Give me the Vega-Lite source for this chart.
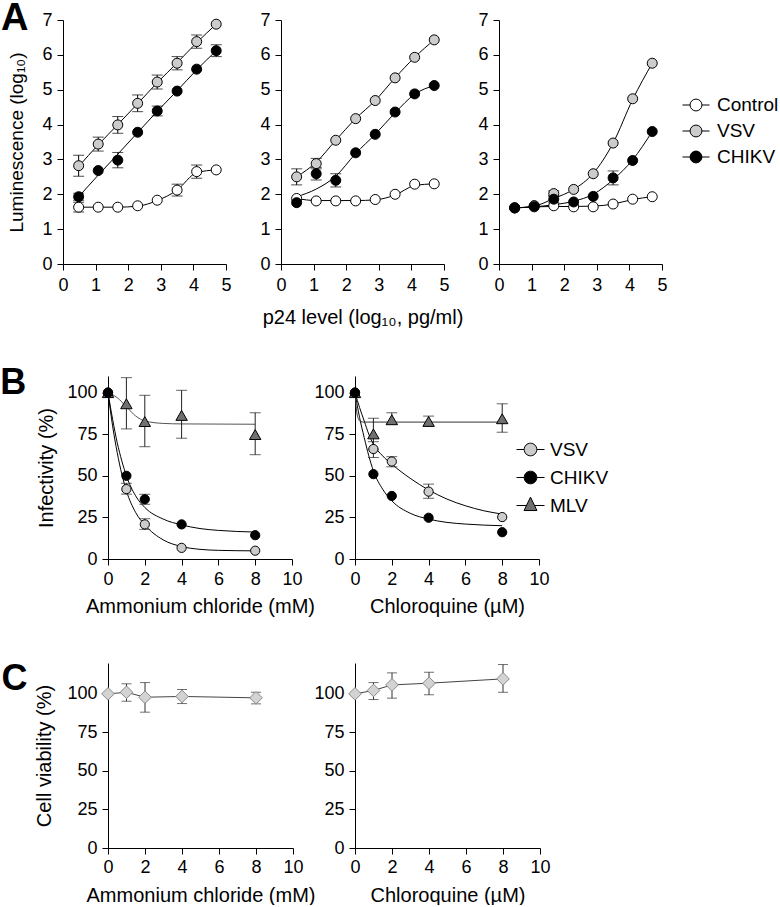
{
"$schema": "https://vega.github.io/schema/vega-lite/v6.json",
"padding": {"left": 0, "top": 0, "right": 0, "bottom": 0},
"background": "white",
"config": {
  "font": "Liberation Sans",
  "view": {"stroke": null},
  "axis": {"domainColor": "black", "domainWidth": 1, "tickColor": "black", "tickWidth": 1, "tickSize": 6, "tickCount": 20, "format": "d", "labelColor": "black", "labelFontSize": 18, "labelFont": "Liberation Sans", "labelPadding": 5, "labelFlush": false, "labelOverlap": false, "titleColor": "black", "titleFontSize": 20, "titleFont": "Liberation Sans", "titleFontWeight": "normal", "grid": false},
  "legend": {"labelFont": "Liberation Sans", "labelColor": "black", "labelFontSize": 19, "padding": 0, "symbolStrokeWidth": 1, "symbolOpacity": 1}
},
"datasets": {
  "A": [
    {"p":1,"s":"Control","x":0.48,"y":1.63,"lo":1.49,"hi":1.77},{"p":1,"s":"Control","x":1.08,"y":1.63},{"p":1,"s":"Control","x":1.68,"y":1.63},{"p":1,"s":"Control","x":2.29,"y":1.67},{"p":1,"s":"Control","x":2.89,"y":1.83},{"p":1,"s":"Control","x":3.5,"y":2.12,"lo":1.95,"hi":2.29},{"p":1,"s":"Control","x":4.1,"y":2.65,"lo":2.46,"hi":2.84},{"p":1,"s":"Control","x":4.7,"y":2.70},
    {"p":1,"s":"VSV","x":0.48,"y":2.82,"lo":2.52,"hi":3.12},{"p":1,"s":"VSV","x":1.08,"y":3.44,"lo":3.24,"hi":3.64},{"p":1,"s":"VSV","x":1.68,"y":3.99,"lo":3.75,"hi":4.23},{"p":1,"s":"VSV","x":2.29,"y":4.61,"lo":4.37,"hi":4.85},{"p":1,"s":"VSV","x":2.89,"y":5.22,"lo":5.02,"hi":5.42},{"p":1,"s":"VSV","x":3.5,"y":5.76,"lo":5.57,"hi":5.95},{"p":1,"s":"VSV","x":4.1,"y":6.38,"lo":6.19,"hi":6.57},{"p":1,"s":"VSV","x":4.7,"y":6.88},
    {"p":1,"s":"CHIKV","x":0.48,"y":1.93,"lo":1.83,"hi":2.03},{"p":1,"s":"CHIKV","x":1.08,"y":2.68},{"p":1,"s":"CHIKV","x":1.68,"y":2.98,"lo":2.76,"hi":3.2},{"p":1,"s":"CHIKV","x":2.29,"y":3.78},{"p":1,"s":"CHIKV","x":2.89,"y":4.39,"lo":4.25,"hi":4.53},{"p":1,"s":"CHIKV","x":3.5,"y":4.96},{"p":1,"s":"CHIKV","x":4.1,"y":5.59},{"p":1,"s":"CHIKV","x":4.7,"y":6.12,"lo":5.95,"hi":6.29},
    {"p":2,"s":"Control","x":0.48,"y":1.88},{"p":2,"s":"Control","x":1.08,"y":1.81},{"p":2,"s":"Control","x":1.68,"y":1.81},{"p":2,"s":"Control","x":2.29,"y":1.81},{"p":2,"s":"Control","x":2.89,"y":1.85},{"p":2,"s":"Control","x":3.5,"y":2.0},{"p":2,"s":"Control","x":4.1,"y":2.29},{"p":2,"s":"Control","x":4.7,"y":2.30},
    {"p":2,"s":"VSV","x":0.48,"y":2.5,"lo":2.27,"hi":2.73},{"p":2,"s":"VSV","x":1.08,"y":2.88,"lo":2.73,"hi":3.03},{"p":2,"s":"VSV","x":1.68,"y":3.55},{"p":2,"s":"VSV","x":2.29,"y":4.17},{"p":2,"s":"VSV","x":2.89,"y":4.69},{"p":2,"s":"VSV","x":3.5,"y":5.34},{"p":2,"s":"VSV","x":4.1,"y":5.93},{"p":2,"s":"VSV","x":4.7,"y":6.43},
    {"p":2,"s":"CHIKV","x":0.48,"y":1.76},{"p":2,"s":"CHIKV","x":1.08,"y":2.59,"lo":2.41,"hi":2.77},{"p":2,"s":"CHIKV","x":1.68,"y":2.40,"lo":2.21,"hi":2.59},{"p":2,"s":"CHIKV","x":2.29,"y":3.19},{"p":2,"s":"CHIKV","x":2.89,"y":3.72},{"p":2,"s":"CHIKV","x":3.5,"y":4.36},{"p":2,"s":"CHIKV","x":4.1,"y":4.88},{"p":2,"s":"CHIKV","x":4.7,"y":5.12},
    {"p":3,"s":"Control","x":0.48,"y":1.61},{"p":3,"s":"Control","x":1.08,"y":1.67},{"p":3,"s":"Control","x":1.68,"y":1.67},{"p":3,"s":"Control","x":2.29,"y":1.64},{"p":3,"s":"Control","x":2.89,"y":1.64},{"p":3,"s":"Control","x":3.5,"y":1.72},{"p":3,"s":"Control","x":4.1,"y":1.86},{"p":3,"s":"Control","x":4.7,"y":1.93},
    {"p":3,"s":"VSV","x":0.48,"y":1.61},{"p":3,"s":"VSV","x":1.08,"y":1.67},{"p":3,"s":"VSV","x":1.68,"y":2.02,"lo":1.94,"hi":2.1},{"p":3,"s":"VSV","x":2.29,"y":2.14},{"p":3,"s":"VSV","x":2.89,"y":2.59},{"p":3,"s":"VSV","x":3.5,"y":3.47},{"p":3,"s":"VSV","x":4.1,"y":4.74},{"p":3,"s":"VSV","x":4.7,"y":5.76},
    {"p":3,"s":"CHIKV","x":0.48,"y":1.61},{"p":3,"s":"CHIKV","x":1.08,"y":1.64},{"p":3,"s":"CHIKV","x":1.68,"y":1.86,"lo":1.76,"hi":1.96},{"p":3,"s":"CHIKV","x":2.29,"y":1.78},{"p":3,"s":"CHIKV","x":2.89,"y":1.94},{"p":3,"s":"CHIKV","x":3.5,"y":2.47,"lo":2.27,"hi":2.67},{"p":3,"s":"CHIKV","x":4.1,"y":2.97},{"p":3,"s":"CHIKV","x":4.7,"y":3.80}
  ],
  "Af": [
    {"p":1,"s":"Control","x":0.48,"y":1.63},{"p":1,"s":"Control","x":1.08,"y":1.63},{"p":1,"s":"Control","x":1.68,"y":1.63},{"p":1,"s":"Control","x":2.29,"y":1.66},{"p":1,"s":"Control","x":2.89,"y":1.82},{"p":1,"s":"Control","x":3.5,"y":2.12},{"p":1,"s":"Control","x":4.1,"y":2.62},{"p":1,"s":"Control","x":4.7,"y":2.70},
    {"p":1,"s":"VSV","x":0.48,"y":2.8},{"p":1,"s":"VSV","x":1.08,"y":3.42},{"p":1,"s":"VSV","x":1.68,"y":4.0},{"p":1,"s":"VSV","x":2.29,"y":4.6},{"p":1,"s":"VSV","x":2.89,"y":5.2},{"p":1,"s":"VSV","x":3.5,"y":5.77},{"p":1,"s":"VSV","x":4.1,"y":6.35},{"p":1,"s":"VSV","x":4.7,"y":6.88},
    {"p":1,"s":"CHIKV","x":0.48,"y":1.93},{"p":1,"s":"CHIKV","x":1.08,"y":2.55},{"p":1,"s":"CHIKV","x":1.68,"y":3.15},{"p":1,"s":"CHIKV","x":2.29,"y":3.77},{"p":1,"s":"CHIKV","x":2.89,"y":4.38},{"p":1,"s":"CHIKV","x":3.5,"y":4.97},{"p":1,"s":"CHIKV","x":4.1,"y":5.57},{"p":1,"s":"CHIKV","x":4.7,"y":6.12},
    {"p":2,"s":"Control","x":0.48,"y":1.88},{"p":2,"s":"Control","x":1.08,"y":1.82},{"p":2,"s":"Control","x":1.68,"y":1.82},{"p":2,"s":"Control","x":2.29,"y":1.82},{"p":2,"s":"Control","x":2.89,"y":1.84},{"p":2,"s":"Control","x":3.5,"y":1.98},{"p":2,"s":"Control","x":4.1,"y":2.25},{"p":2,"s":"Control","x":4.7,"y":2.30},
    {"p":2,"s":"VSV","x":0.48,"y":2.5},{"p":2,"s":"VSV","x":1.08,"y":2.92},{"p":2,"s":"VSV","x":1.68,"y":3.55},{"p":2,"s":"VSV","x":2.29,"y":4.17},{"p":2,"s":"VSV","x":2.89,"y":4.69},{"p":2,"s":"VSV","x":3.5,"y":5.34},{"p":2,"s":"VSV","x":4.1,"y":5.93},{"p":2,"s":"VSV","x":4.7,"y":6.43},
    {"p":2,"s":"CHIKV","x":0.48,"y":1.93},{"p":2,"s":"CHIKV","x":1.08,"y":2.15},{"p":2,"s":"CHIKV","x":1.68,"y":2.52},{"p":2,"s":"CHIKV","x":2.29,"y":3.17},{"p":2,"s":"CHIKV","x":2.89,"y":3.72},{"p":2,"s":"CHIKV","x":3.5,"y":4.34},{"p":2,"s":"CHIKV","x":4.1,"y":4.87},{"p":2,"s":"CHIKV","x":4.7,"y":5.12},
    {"p":3,"s":"Control","x":0.48,"y":1.61},{"p":3,"s":"Control","x":1.08,"y":1.64},{"p":3,"s":"Control","x":1.68,"y":1.65},{"p":3,"s":"Control","x":2.29,"y":1.65},{"p":3,"s":"Control","x":2.89,"y":1.66},{"p":3,"s":"Control","x":3.5,"y":1.72},{"p":3,"s":"Control","x":4.1,"y":1.85},{"p":3,"s":"Control","x":4.7,"y":1.93},
    {"p":3,"s":"VSV","x":0.48,"y":1.61},{"p":3,"s":"VSV","x":1.08,"y":1.66},{"p":3,"s":"VSV","x":1.68,"y":1.88},{"p":3,"s":"VSV","x":2.29,"y":2.14},{"p":3,"s":"VSV","x":2.89,"y":2.6},{"p":3,"s":"VSV","x":3.5,"y":3.47},{"p":3,"s":"VSV","x":4.1,"y":4.72},{"p":3,"s":"VSV","x":4.7,"y":5.76},
    {"p":3,"s":"CHIKV","x":0.48,"y":1.61},{"p":3,"s":"CHIKV","x":1.08,"y":1.64},{"p":3,"s":"CHIKV","x":1.68,"y":1.7},{"p":3,"s":"CHIKV","x":2.29,"y":1.8},{"p":3,"s":"CHIKV","x":2.89,"y":2.0},{"p":3,"s":"CHIKV","x":3.5,"y":2.42},{"p":3,"s":"CHIKV","x":4.1,"y":2.99},{"p":3,"s":"CHIKV","x":4.7,"y":3.8}
  ],
  "B": [
    {"p":1,"s":"MLV","x":0,"y":100},{"p":1,"s":"MLV","x":1,"y":93.3,"lo":78.2,"hi":109},{"p":1,"s":"MLV","x":2,"y":82.6,"lo":67.5,"hi":98.4},{"p":1,"s":"MLV","x":4,"y":86.3,"lo":72.6,"hi":101.4},{"p":1,"s":"MLV","x":8,"y":74.8,"lo":62.7,"hi":87.9},
    {"p":1,"s":"VSV","x":0,"y":100},{"p":1,"s":"VSV","x":1,"y":42,"lo":39,"hi":45.5},{"p":1,"s":"VSV","x":2,"y":20.8,"lo":17.8,"hi":24.2},{"p":1,"s":"VSV","x":4,"y":6.7},{"p":1,"s":"VSV","x":8,"y":5},
    {"p":1,"s":"CHIKV","x":0,"y":100},{"p":1,"s":"CHIKV","x":1,"y":50},{"p":1,"s":"CHIKV","x":2,"y":35.9,"lo":32.9,"hi":38.9},{"p":1,"s":"CHIKV","x":4,"y":20.8},{"p":1,"s":"CHIKV","x":8,"y":14.3},
    {"p":2,"s":"MLV","x":0,"y":100},{"p":2,"s":"MLV","x":1,"y":75.2,"lo":66,"hi":84.6},{"p":2,"s":"MLV","x":2,"y":83.7,"lo":81.2,"hi":87.9},{"p":2,"s":"MLV","x":4,"y":82.7,"lo":79.8,"hi":85.9},{"p":2,"s":"MLV","x":8,"y":84.3,"lo":76.2,"hi":93.3},
    {"p":2,"s":"VSV","x":0,"y":100},{"p":2,"s":"VSV","x":1,"y":66.1,"lo":61,"hi":70.5},{"p":2,"s":"VSV","x":2,"y":58.6,"lo":55.4,"hi":61.5},{"p":2,"s":"VSV","x":4,"y":40.5,"lo":36.5,"hi":45},{"p":2,"s":"VSV","x":8,"y":25.2},
    {"p":2,"s":"CHIKV","x":0,"y":100},{"p":2,"s":"CHIKV","x":1,"y":51},{"p":2,"s":"CHIKV","x":2,"y":37.9},{"p":2,"s":"CHIKV","x":4,"y":24.8},{"p":2,"s":"CHIKV","x":8,"y":16.1}
  ],
  "Bf": [
    {"p":1,"s":"VSV","x":0,"y":100},{"p":1,"s":"VSV","x":0.25,"y":80},{"p":1,"s":"VSV","x":0.5,"y":64},{"p":1,"s":"VSV","x":0.75,"y":51},{"p":1,"s":"VSV","x":1,"y":41},{"p":1,"s":"VSV","x":1.5,"y":28},{"p":1,"s":"VSV","x":2,"y":20.5},{"p":1,"s":"VSV","x":3,"y":11.5},{"p":1,"s":"VSV","x":4,"y":7.5},{"p":1,"s":"VSV","x":5,"y":5.8},{"p":1,"s":"VSV","x":6,"y":5.2},{"p":1,"s":"VSV","x":8,"y":4.9},
    {"p":1,"s":"CHIKV","x":0,"y":100},{"p":1,"s":"CHIKV","x":0.25,"y":84},{"p":1,"s":"CHIKV","x":0.5,"y":70},{"p":1,"s":"CHIKV","x":0.75,"y":59},{"p":1,"s":"CHIKV","x":1,"y":50},{"p":1,"s":"CHIKV","x":1.5,"y":38},{"p":1,"s":"CHIKV","x":2,"y":31},{"p":1,"s":"CHIKV","x":3,"y":24},{"p":1,"s":"CHIKV","x":4,"y":20.5},{"p":1,"s":"CHIKV","x":5,"y":18.3},{"p":1,"s":"CHIKV","x":6,"y":17.2},{"p":1,"s":"CHIKV","x":8,"y":16.2},
    {"p":1,"s":"MLV","x":0,"y":100},{"p":1,"s":"MLV","x":0.5,"y":97},{"p":1,"s":"MLV","x":1,"y":91.5},{"p":1,"s":"MLV","x":1.5,"y":86},{"p":1,"s":"MLV","x":2,"y":83},{"p":1,"s":"MLV","x":3,"y":81.5},{"p":1,"s":"MLV","x":4,"y":81.2},{"p":1,"s":"MLV","x":8,"y":81},
    {"p":2,"s":"VSV","x":0,"y":100},{"p":2,"s":"VSV","x":0.25,"y":91},{"p":2,"s":"VSV","x":0.5,"y":83},{"p":2,"s":"VSV","x":0.75,"y":75},{"p":2,"s":"VSV","x":1,"y":69},{"p":2,"s":"VSV","x":1.5,"y":62},{"p":2,"s":"VSV","x":2,"y":57},{"p":2,"s":"VSV","x":3,"y":48.5},{"p":2,"s":"VSV","x":4,"y":41.5},{"p":2,"s":"VSV","x":5,"y":36},{"p":2,"s":"VSV","x":6,"y":32},{"p":2,"s":"VSV","x":7,"y":29},{"p":2,"s":"VSV","x":8,"y":27},
    {"p":2,"s":"CHIKV","x":0,"y":100},{"p":2,"s":"CHIKV","x":0.25,"y":85},{"p":2,"s":"CHIKV","x":0.5,"y":73},{"p":2,"s":"CHIKV","x":0.75,"y":62},{"p":2,"s":"CHIKV","x":1,"y":53},{"p":2,"s":"CHIKV","x":1.5,"y":42},{"p":2,"s":"CHIKV","x":2,"y":35},{"p":2,"s":"CHIKV","x":3,"y":27.5},{"p":2,"s":"CHIKV","x":4,"y":24},{"p":2,"s":"CHIKV","x":5,"y":22},{"p":2,"s":"CHIKV","x":6,"y":21},{"p":2,"s":"CHIKV","x":8,"y":20},
    {"p":2,"s":"MLV","x":0,"y":100},{"p":2,"s":"MLV","x":0.1,"y":88},{"p":2,"s":"MLV","x":0.2,"y":84},{"p":2,"s":"MLV","x":0.3,"y":82.6},{"p":2,"s":"MLV","x":0.5,"y":82.3},{"p":2,"s":"MLV","x":8,"y":82.3}
  ],
  "C": [
    {"p":1,"x":0,"y":100},{"p":1,"x":1,"y":101,"lo":95.2,"hi":106.5},{"p":1,"x":2,"y":97.8,"lo":88.1,"hi":107.3},{"p":1,"x":4,"y":98.3,"lo":93.7,"hi":102.8},{"p":1,"x":8,"y":97.4,"lo":93.5,"hi":101},
    {"p":2,"x":0,"y":100},{"p":2,"x":1,"y":102.2,"lo":96.3,"hi":107.3},{"p":2,"x":2,"y":105.8,"lo":97.2,"hi":113.6},{"p":2,"x":4,"y":106.9,"lo":99.4,"hi":114},{"p":2,"x":8,"y":109.7,"lo":101,"hi":119}
  ]
},
"resolve": {"scale": {"fill": "independent", "shape": "independent"}, "legend": {"fill": "independent", "shape": "independent"}},
"columns": 1,
"align": "none",
"spacing": 37,
"concat": [
  {
    "bounds": "flush", "spacing": 55,
    "hconcat": [
      {"width": 163, "height": 244,
       "layer": [
        {"data": {"name": "Af"}, "transform": [{"filter": "datum.p==1"}], "mark": {"type": "line", "color": "black", "strokeWidth": 1, "interpolate": "monotone"},
         "encoding": {"x": {"field": "x", "type": "quantitative", "scale": {"domain": [0, 5], "nice": false}, "axis": {"values": [0,1,2,3,4,5], "tickCount": 20, "format": "d", "title": null, "labelPadding": 6}},
                      "y": {"field": "y", "type": "quantitative", "scale": {"domain": [0, 7], "nice": false}, "axis": {"values": [0,1,2,3,4,5,6,7], "tickCount": 20, "format": "d", "title": "Luminescence (log₁₀)", "titleFontSize": 19, "titlePadding": 15}},
                      "detail": {"field": "s", "type": "nominal"}}},
        {"data": {"name": "A"}, "transform": [{"filter": "datum.p==1 && isValid(datum.lo)"}], "mark": {"type": "rule", "color": "black", "strokeWidth": 1},
         "encoding": {"x": {"field": "x", "type": "quantitative"}, "y": {"field": "lo", "type": "quantitative"}, "y2": {"field": "hi"}}},
        {"data": {"name": "A"}, "transform": [{"filter": "datum.p==1 && isValid(datum.lo)"}, {"fold": ["lo", "hi"], "as": ["k", "v"]}], "mark": {"type": "tick", "orient": "horizontal", "size": 11, "thickness": 1, "color": "black"},
         "encoding": {"x": {"field": "x", "type": "quantitative"}, "y": {"field": "v", "type": "quantitative"}}},
        {"data": {"name": "A"}, "transform": [{"filter": "datum.p==1"}], "mark": {"type": "point", "shape": "circle", "size": 100, "filled": true, "stroke": "black", "strokeWidth": 1, "opacity": 1},
         "encoding": {"x": {"field": "x", "type": "quantitative"}, "y": {"field": "y", "type": "quantitative"},
                      "fill": {"field": "s", "type": "nominal", "scale": {"domain": ["Control", "VSV", "CHIKV"], "range": ["#ffffff", "#cccccc", "#000000"]},
                               "legend": {"title": null, "orient": "none", "legendX": 619, "legendY": 71, "symbolType": "M-1,0L-0.44,0M0.44,0L1,0M-0.44,0A0.44,0.44,0,1,0,0.44,0A0.44,0.44,0,1,0,-0.44,0Z", "symbolSize": 729, "symbolStrokeColor": "black", "labelOffset": 7, "rowPadding": 2}}}},
        {"data": {"values": [{"panel": "A"}]}, "mark": {"type": "text", "align": "left", "baseline": "alphabetic", "fontSize": 38, "fontWeight": "bold", "font": "Liberation Sans", "color": "black"},
         "encoding": {"x": {"datum": -1.9, "type": "quantitative"}, "y": {"datum": 6.71, "type": "quantitative"}, "text": {"field": "panel"}}}
      ]},
      {"width": 163, "height": 244, "layer": [
        {"data": {"name": "Af"}, "transform": [{"filter": "datum.p==2"}], "mark": {"type": "line", "color": "black", "strokeWidth": 1, "interpolate": "monotone"},
         "encoding": {"x": {"field": "x", "type": "quantitative", "scale": {"domain": [0, 5], "nice": false}, "axis": {"values": [0,1,2,3,4,5], "tickCount": 20, "format": "d", "title": "p24 level (log₁₀, pg/ml)", "labelPadding": 6, "titlePadding": 13}},
                      "y": {"field": "y", "type": "quantitative", "scale": {"domain": [0, 7], "nice": false}, "axis": {"values": [0,1,2,3,4,5,6,7], "tickCount": 20, "format": "d", "title": null}},
                      "detail": {"field": "s", "type": "nominal"}}},
        {"data": {"name": "A"}, "transform": [{"filter": "datum.p==2 && isValid(datum.lo)"}], "mark": {"type": "rule", "color": "black", "strokeWidth": 1},
         "encoding": {"x": {"field": "x", "type": "quantitative"}, "y": {"field": "lo", "type": "quantitative"}, "y2": {"field": "hi"}}},
        {"data": {"name": "A"}, "transform": [{"filter": "datum.p==2 && isValid(datum.lo)"}, {"fold": ["lo", "hi"], "as": ["k", "v"]}], "mark": {"type": "tick", "orient": "horizontal", "size": 11, "thickness": 1, "color": "black"},
         "encoding": {"x": {"field": "x", "type": "quantitative"}, "y": {"field": "v", "type": "quantitative"}}},
        {"data": {"name": "A"}, "transform": [{"filter": "datum.p==2"}], "mark": {"type": "point", "shape": "circle", "size": 100, "filled": true, "stroke": "black", "strokeWidth": 1, "opacity": 1},
         "encoding": {"x": {"field": "x", "type": "quantitative"}, "y": {"field": "y", "type": "quantitative"},
                      "fill": {"field": "s", "type": "nominal", "scale": {"domain": ["Control", "VSV", "CHIKV"], "range": ["#ffffff", "#cccccc", "#000000"]},
                               "legend": {"title": null, "orient": "none", "legendX": 619, "legendY": 71, "symbolType": "M-1,0L-0.44,0M0.44,0L1,0M-0.44,0A0.44,0.44,0,1,0,0.44,0A0.44,0.44,0,1,0,-0.44,0Z", "symbolSize": 729, "symbolStrokeColor": "black", "labelOffset": 7, "rowPadding": 2}}}}
      ]},
      {"width": 163, "height": 244, "layer": [
        {"data": {"name": "Af"}, "transform": [{"filter": "datum.p==3"}], "mark": {"type": "line", "color": "black", "strokeWidth": 1, "interpolate": "monotone"},
         "encoding": {"x": {"field": "x", "type": "quantitative", "scale": {"domain": [0, 5], "nice": false}, "axis": {"values": [0,1,2,3,4,5], "tickCount": 20, "format": "d", "title": null, "labelPadding": 6}},
                      "y": {"field": "y", "type": "quantitative", "scale": {"domain": [0, 7], "nice": false}, "axis": {"values": [0,1,2,3,4,5,6,7], "tickCount": 20, "format": "d", "title": null}},
                      "detail": {"field": "s", "type": "nominal"}}},
        {"data": {"name": "A"}, "transform": [{"filter": "datum.p==3 && isValid(datum.lo)"}], "mark": {"type": "rule", "color": "black", "strokeWidth": 1},
         "encoding": {"x": {"field": "x", "type": "quantitative"}, "y": {"field": "lo", "type": "quantitative"}, "y2": {"field": "hi"}}},
        {"data": {"name": "A"}, "transform": [{"filter": "datum.p==3 && isValid(datum.lo)"}, {"fold": ["lo", "hi"], "as": ["k", "v"]}], "mark": {"type": "tick", "orient": "horizontal", "size": 11, "thickness": 1, "color": "black"},
         "encoding": {"x": {"field": "x", "type": "quantitative"}, "y": {"field": "v", "type": "quantitative"}}},
        {"data": {"name": "A"}, "transform": [{"filter": "datum.p==3"}], "mark": {"type": "point", "shape": "circle", "size": 100, "filled": true, "stroke": "black", "strokeWidth": 1, "opacity": 1},
         "encoding": {"x": {"field": "x", "type": "quantitative"}, "y": {"field": "y", "type": "quantitative"},
                      "fill": {"field": "s", "type": "nominal", "scale": {"domain": ["Control", "VSV", "CHIKV"], "range": ["#ffffff", "#cccccc", "#000000"]},
                               "legend": {"title": null, "orient": "none", "legendX": 619, "legendY": 71, "symbolType": "M-1,0L-0.44,0M0.44,0L1,0M-0.44,0A0.44,0.44,0,1,0,0.44,0A0.44,0.44,0,1,0,-0.44,0Z", "symbolSize": 729, "symbolStrokeColor": "black", "labelOffset": 7, "rowPadding": 2}}}}
      ]}
    ]
  },
  {
    "bounds": "flush", "spacing": 0,
    "hconcat": [
      {"width": 45, "height": 10, "data": {"values": []}, "mark": {"type": "point", "opacity": 0}},
      {
        "spacing": 44,
        "vconcat": [
          {
            "bounds": "flush", "spacing": 63,
            "hconcat": [
              {"width": 184, "height": 183, "layer": [
                {"data": {"name": "Bf"}, "transform": [{"filter": "datum.p==1 && datum.s!='MLV'"}], "mark": {"type": "line", "color": "black", "strokeWidth": 1, "interpolate": "monotone"},
                 "encoding": {"x": {"field": "x", "type": "quantitative", "scale": {"domain": [0, 10], "nice": false}, "axis": {"values": [0,2,4,6,8,10], "tickCount": 20, "format": "d", "title": "Ammonium chloride (mM)", "titlePadding": 8}},
                              "y": {"field": "y", "type": "quantitative", "scale": {"domain": [0, 110], "nice": false}, "axis": {"values": [0,25,50,75,100], "tickCount": 20, "format": "d", "title": "Infectivity (%)", "titlePadding": 10}},
                              "detail": {"field": "s", "type": "nominal"}}},
                {"data": {"name": "Bf"}, "transform": [{"filter": "datum.p==1 && datum.s=='MLV'"}], "mark": {"type": "line", "color": "#555555", "strokeWidth": 1, "interpolate": "monotone"},
                 "encoding": {"x": {"field": "x", "type": "quantitative"}, "y": {"field": "y", "type": "quantitative"}}},
                {"data": {"name": "B"}, "transform": [{"filter": "datum.p==1 && isValid(datum.lo)"}], "mark": {"type": "rule", "color": "#222222", "strokeWidth": 1},
                 "encoding": {"x": {"field": "x", "type": "quantitative"}, "y": {"field": "lo", "type": "quantitative"}, "y2": {"field": "hi"}}},
                {"data": {"name": "B"}, "transform": [{"filter": "datum.p==1 && isValid(datum.lo)"}, {"fold": ["lo", "hi"], "as": ["k", "v"]}], "mark": {"type": "tick", "orient": "horizontal", "size": 11, "thickness": 1, "color": "#222222"},
                 "encoding": {"x": {"field": "x", "type": "quantitative"}, "y": {"field": "v", "type": "quantitative"}}},
                {"data": {"name": "B"}, "transform": [{"filter": "datum.p==1 && datum.s=='MLV'"}], "mark": {"type": "point", "shape": "triangle-up", "size": 130, "filled": true, "stroke": "black", "strokeWidth": 1, "opacity": 1},
                 "encoding": {"x": {"field": "x", "type": "quantitative"}, "y": {"field": "y", "type": "quantitative"},
                              "fill": {"field": "s", "type": "nominal", "scale": {"domain": ["VSV", "CHIKV", "MLV"], "range": ["#cccccc", "#000000", "#707070"]},
                                       "legend": {"title": null, "orient": "none", "legendX": 453, "legendY": 59, "symbolSize": 784, "labelOffset": 5, "rowPadding": 3, "symbolOpacity": 1, "symbolStrokeWidth": 1}}}},
                {"data": {"name": "B"}, "transform": [{"filter": "datum.p==1 && datum.s!='MLV'"}], "mark": {"type": "point", "shape": "circle", "size": 85, "filled": true, "stroke": "black", "strokeWidth": 1, "opacity": 1},
                 "encoding": {"x": {"field": "x", "type": "quantitative"}, "y": {"field": "y", "type": "quantitative"},
                              "fill": {"field": "s", "type": "nominal", "scale": {"domain": ["VSV", "CHIKV", "MLV"], "range": ["#cccccc", "#000000", "#707070"]},
                                       "legend": {"title": null, "orient": "none", "legendX": 453, "legendY": 59, "symbolSize": 784, "labelOffset": 5, "rowPadding": 3, "symbolOpacity": 1, "symbolStrokeWidth": 1}}}},
                {"data": {"name": "B"}, "transform": [{"filter": "datum.p==1"}], "mark": {"type": "point", "filled": true, "stroke": "black", "strokeWidth": 1, "opacity": 1, "size": 0},
                 "encoding": {"x": {"field": "x", "type": "quantitative"}, "y": {"field": "y", "type": "quantitative"},
                              "fill": {"field": "s", "type": "nominal", "scale": {"domain": ["VSV", "CHIKV", "MLV"], "range": ["#cccccc", "#000000", "#707070"]},
                                       "legend": {"title": null, "orient": "none", "legendX": 453, "legendY": 59, "symbolSize": 784, "labelOffset": 5, "rowPadding": 3, "symbolOpacity": 1, "symbolStrokeWidth": 1}},
                              "shape": {"field": "s", "type": "nominal", "scale": {"domain": ["VSV", "CHIKV", "MLV"], "range": ["M-1,0L-0.45,0M0.45,0L1,0M-0.45,0A0.45,0.45,0,1,0,0.45,0A0.45,0.45,0,1,0,-0.45,0Z", "M-1,0L-0.45,0M0.45,0L1,0M-0.45,0A0.45,0.45,0,1,0,0.45,0A0.45,0.45,0,1,0,-0.45,0Z", "M-1,0L-0.29,0M0.29,0L1,0M0,-0.6L0.46,0.36L-0.46,0.36Z"]},
                                       "legend": {"title": null, "orient": "none", "legendX": 453, "legendY": 59, "symbolSize": 784, "labelOffset": 5, "rowPadding": 3, "symbolOpacity": 1, "symbolStrokeWidth": 1}}}},
                {"data": {"values": [{"panel": "B"}]}, "mark": {"type": "text", "align": "left", "baseline": "alphabetic", "fontSize": 36, "fontWeight": "bold", "font": "Liberation Sans", "color": "black"},
                 "encoding": {"x": {"datum": -5.86, "type": "quantitative"}, "y": {"datum": 99.2, "type": "quantitative"}, "text": {"field": "panel"}}}
              ]},
              {"width": 184, "height": 183, "layer": [
                {"data": {"name": "Bf"}, "transform": [{"filter": "datum.p==2 && datum.s!='MLV'"}], "mark": {"type": "line", "color": "black", "strokeWidth": 1, "interpolate": "monotone"},
                 "encoding": {"x": {"field": "x", "type": "quantitative", "scale": {"domain": [0, 10], "nice": false}, "axis": {"values": [0,2,4,6,8,10], "tickCount": 20, "format": "d", "title": "Chloroquine (µM)", "titlePadding": 8}},
                              "y": {"field": "y", "type": "quantitative", "scale": {"domain": [0, 110], "nice": false}, "axis": {"values": [0,25,50,75,100], "tickCount": 20, "format": "d", "title": null}},
                              "detail": {"field": "s", "type": "nominal"}}},
                {"data": {"name": "Bf"}, "transform": [{"filter": "datum.p==2 && datum.s=='MLV'"}], "mark": {"type": "line", "color": "#333333", "strokeWidth": 1, "interpolate": "monotone"},
                 "encoding": {"x": {"field": "x", "type": "quantitative"}, "y": {"field": "y", "type": "quantitative"}}},
                {"data": {"name": "B"}, "transform": [{"filter": "datum.p==2 && isValid(datum.lo)"}], "mark": {"type": "rule", "color": "#222222", "strokeWidth": 1},
                 "encoding": {"x": {"field": "x", "type": "quantitative"}, "y": {"field": "lo", "type": "quantitative"}, "y2": {"field": "hi"}}},
                {"data": {"name": "B"}, "transform": [{"filter": "datum.p==2 && isValid(datum.lo)"}, {"fold": ["lo", "hi"], "as": ["k", "v"]}], "mark": {"type": "tick", "orient": "horizontal", "size": 11, "thickness": 1, "color": "#222222"},
                 "encoding": {"x": {"field": "x", "type": "quantitative"}, "y": {"field": "v", "type": "quantitative"}}},
                {"data": {"name": "B"}, "transform": [{"filter": "datum.p==2 && datum.s=='MLV'"}], "mark": {"type": "point", "shape": "triangle-up", "size": 130, "filled": true, "stroke": "black", "strokeWidth": 1, "opacity": 1},
                 "encoding": {"x": {"field": "x", "type": "quantitative"}, "y": {"field": "y", "type": "quantitative"},
                              "fill": {"field": "s", "type": "nominal", "scale": {"domain": ["VSV", "CHIKV", "MLV"], "range": ["#cccccc", "#000000", "#707070"]},
                                       "legend": {"title": null, "orient": "none", "legendX": 453, "legendY": 59, "symbolSize": 784, "labelOffset": 5, "rowPadding": 3, "symbolOpacity": 1, "symbolStrokeWidth": 1}}}},
                {"data": {"name": "B"}, "transform": [{"filter": "datum.p==2 && datum.s!='MLV'"}], "mark": {"type": "point", "shape": "circle", "size": 85, "filled": true, "stroke": "black", "strokeWidth": 1, "opacity": 1},
                 "encoding": {"x": {"field": "x", "type": "quantitative"}, "y": {"field": "y", "type": "quantitative"},
                              "fill": {"field": "s", "type": "nominal", "scale": {"domain": ["VSV", "CHIKV", "MLV"], "range": ["#cccccc", "#000000", "#707070"]},
                                       "legend": {"title": null, "orient": "none", "legendX": 453, "legendY": 59, "symbolSize": 784, "labelOffset": 5, "rowPadding": 3, "symbolOpacity": 1, "symbolStrokeWidth": 1}}}}
              ]}
            ]
          },
          {
            "bounds": "flush", "spacing": 62,
            "hconcat": [
              {"width": 185, "height": 185, "layer": [
                {"data": {"name": "C"}, "transform": [{"filter": "datum.p==1"}], "mark": {"type": "line", "color": "#444444", "strokeWidth": 1},
                 "encoding": {"x": {"field": "x", "type": "quantitative", "scale": {"domain": [0, 10], "nice": false}, "axis": {"values": [0,2,4,6,8,10], "tickCount": 20, "format": "d", "title": "Ammonium chloride (mM)", "titlePadding": 9, "labelPadding": 4}},
                              "y": {"field": "y", "type": "quantitative", "scale": {"domain": [0, 120], "nice": false}, "axis": {"values": [0,25,50,75,100], "tickCount": 20, "format": "d", "title": "Cell viability (%)", "titlePadding": 12}}}},
                {"data": {"name": "C"}, "transform": [{"filter": "datum.p==1 && isValid(datum.lo)"}], "mark": {"type": "rule", "color": "#333333", "strokeWidth": 1},
                 "encoding": {"x": {"field": "x", "type": "quantitative"}, "y": {"field": "lo", "type": "quantitative"}, "y2": {"field": "hi"}}},
                {"data": {"name": "C"}, "transform": [{"filter": "datum.p==1 && isValid(datum.lo)"}, {"fold": ["lo", "hi"], "as": ["k", "v"]}], "mark": {"type": "tick", "orient": "horizontal", "size": 10, "thickness": 1, "color": "#333333"},
                 "encoding": {"x": {"field": "x", "type": "quantitative"}, "y": {"field": "v", "type": "quantitative"}}},
                {"data": {"name": "C"}, "transform": [{"filter": "datum.p==1"}], "mark": {"type": "point", "shape": "diamond", "size": 160, "filled": true, "fill": "#d3d3d3", "stroke": "#8a8a8a", "strokeWidth": 1, "opacity": 1},
                 "encoding": {"x": {"field": "x", "type": "quantitative"}, "y": {"field": "y", "type": "quantitative"}}},
                {"data": {"values": [{"panel": "C"}]}, "mark": {"type": "text", "align": "left", "baseline": "alphabetic", "fontSize": 36, "fontWeight": "bold", "font": "Liberation Sans", "color": "black"},
                 "encoding": {"x": {"datum": -5.76, "type": "quantitative"}, "y": {"datum": 102.5, "type": "quantitative"}, "text": {"field": "panel"}}}
              ]},
              {"width": 185, "height": 185, "layer": [
                {"data": {"name": "C"}, "transform": [{"filter": "datum.p==2"}], "mark": {"type": "line", "color": "#444444", "strokeWidth": 1},
                 "encoding": {"x": {"field": "x", "type": "quantitative", "scale": {"domain": [0, 10], "nice": false}, "axis": {"values": [0,2,4,6,8,10], "tickCount": 20, "format": "d", "title": "Chloroquine (µM)", "titlePadding": 9, "labelPadding": 4}},
                              "y": {"field": "y", "type": "quantitative", "scale": {"domain": [0, 120], "nice": false}, "axis": {"values": [0,25,50,75,100], "tickCount": 20, "format": "d", "title": null}}}},
                {"data": {"name": "C"}, "transform": [{"filter": "datum.p==2 && isValid(datum.lo)"}], "mark": {"type": "rule", "color": "#333333", "strokeWidth": 1},
                 "encoding": {"x": {"field": "x", "type": "quantitative"}, "y": {"field": "lo", "type": "quantitative"}, "y2": {"field": "hi"}}},
                {"data": {"name": "C"}, "transform": [{"filter": "datum.p==2 && isValid(datum.lo)"}, {"fold": ["lo", "hi"], "as": ["k", "v"]}], "mark": {"type": "tick", "orient": "horizontal", "size": 10, "thickness": 1, "color": "#333333"},
                 "encoding": {"x": {"field": "x", "type": "quantitative"}, "y": {"field": "v", "type": "quantitative"}}},
                {"data": {"name": "C"}, "transform": [{"filter": "datum.p==2"}], "mark": {"type": "point", "shape": "diamond", "size": 160, "filled": true, "fill": "#d3d3d3", "stroke": "#8a8a8a", "strokeWidth": 1, "opacity": 1},
                 "encoding": {"x": {"field": "x", "type": "quantitative"}, "y": {"field": "y", "type": "quantitative"}}}
              ]}
            ]
          }
        ]
      }
    ]
  }
]
}
